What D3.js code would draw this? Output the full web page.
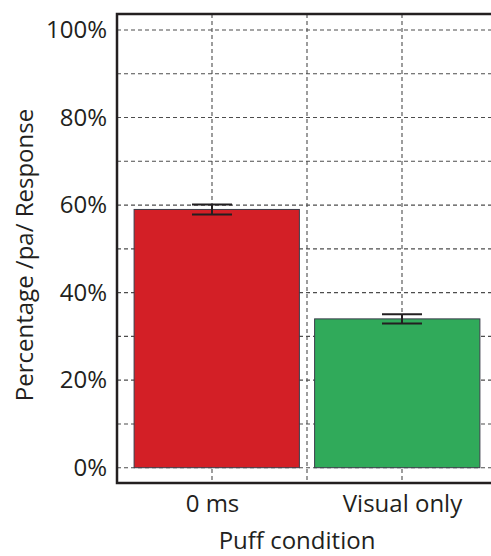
<!DOCTYPE html>
<html lang="en">
<head>
	<meta charset="utf-8">
	<script src="https://d3js.org/d3.v7.min.js"></script>
	<style>
		body { margin: 0; background: #fff; }
		text { font-family: "Open Sans", sans-serif; fill: #231f20; }
	</style>
</head>
<body>
	<script type="text/javascript">

		// data
		var categories = ["0 ms", "Visual only"];
		var values = [59.0, 34.0];
		var errors = [1.15, 1.05];
		var barColors = ["#d31f26", "#30aa5a"];
		var yTicks = [0, 20, 40, 60, 80, 100];
		var yGrid = [0, 10, 20, 30, 40, 50, 60, 70, 80, 90, 100];
		var xGrid = [0.5, 1, 1.5, 2, 2.5];

		var svgWidth = 491;
		var svgHeight = 556;

		// plot frame (right side is cut off by the picture edge)
		var plotLeft = 117, plotTop = 14, plotBottom = 483;

		var svg = d3.select("body")
			.append("svg")
			.attr("width", svgWidth)
			.attr("height", svgHeight);

		// x: categories sit at 1 and 2, grid every half step
		var x = d3.scaleLinear()
			.domain([0.5, 2.5])
			.range([plotLeft, 497]);

		var y = d3.scaleLinear()
			.domain([0, 100])
			.range([467.7, 30]);

		// bar edges relative to the category position
		var barEdges = [[-0.41, 0.46], [-0.46, 0.41]];

		//grid lines
		svg.append("g")
			.selectAll("line.hgrid")
			.data(yGrid)
			.enter()
			.append("line")
				.attr("class", "hgrid")
				.attr("x1", plotLeft)
				.attr("x2", svgWidth)
				.attr("y1", function(d) { return y(d); })
				.attr("y2", function(d) { return y(d); })
				.attr("stroke", "#4d4d4d")
				.attr("stroke-width", 1.1)
				.attr("stroke-dasharray", "4,3");

		svg.append("g")
			.selectAll("line.vgrid")
			.data(xGrid)
			.enter()
			.append("line")
				.attr("class", "vgrid")
				.attr("x1", function(d) { return x(d); })
				.attr("x2", function(d) { return x(d); })
				.attr("y1", plotTop)
				.attr("y2", plotBottom)
				.attr("stroke", "#4d4d4d")
				.attr("stroke-width", 1.1)
				.attr("stroke-dasharray", "4,3");

		//bars
		svg.selectAll("rect.bar")
			.data(values)
			.enter()
			.append("rect")
				.attr("class", "bar")
				.attr("x", function(d, i) { return x(i + 1 + barEdges[i][0]); })
				.attr("width", function(d, i) { return x(i + 1 + barEdges[i][1]) - x(i + 1 + barEdges[i][0]); })
				.attr("y", function(d) { return y(d); })
				.attr("height", function(d) { return y(0) - y(d); })
				.attr("fill", function(d, i) { return barColors[i]; })
				.attr("stroke", "#3b3d4a")
				.attr("stroke-width", 1);

		//error bars
		var capHalf = 20;
		var err = svg.selectAll("g.err")
			.data(values)
			.enter()
			.append("g")
				.attr("class", "err")
				.attr("stroke", "#231f20")
				.attr("stroke-width", 2);

		err.append("line")
			.attr("x1", function(d, i) { return x(i + 1); })
			.attr("x2", function(d, i) { return x(i + 1); })
			.attr("y1", function(d, i) { return y(d + errors[i]); })
			.attr("y2", function(d, i) { return y(d - errors[i]); });

		err.append("line")
			.attr("x1", function(d, i) { return x(i + 1) - capHalf; })
			.attr("x2", function(d, i) { return x(i + 1) + capHalf; })
			.attr("y1", function(d, i) { return y(d + errors[i]); })
			.attr("y2", function(d, i) { return y(d + errors[i]); });

		err.append("line")
			.attr("x1", function(d, i) { return x(i + 1) - capHalf; })
			.attr("x2", function(d, i) { return x(i + 1) + capHalf; })
			.attr("y1", function(d, i) { return y(d - errors[i]); })
			.attr("y2", function(d, i) { return y(d - errors[i]); });

		//frame
		svg.append("path")
			.attr("d", "M" + svgWidth + "," + plotTop + "H" + plotLeft + "V" + plotBottom + "H" + svgWidth)
			.attr("fill", "none")
			.attr("stroke", "#231f20")
			.attr("stroke-width", 2.5);

		//y axis labels
		var yAxis = d3.axisLeft(y)
			.tickValues(yTicks)
			.tickSize(0)
			.tickPadding(10)
			.tickFormat(function(d) { return d + "%"; });

		svg.append("g")
			.attr("transform", "translate(" + plotLeft + ",0)")
			.call(yAxis)
			.call(function(g) { g.select(".domain").remove(); })
			.selectAll("text")
				.style("font-family", "'Open Sans', sans-serif")
				.style("font-size", "24px")
				.attr("fill", "#231f20");

		//x axis labels
		var xAxis = d3.axisBottom(x)
			.tickValues([1, 2])
			.tickSize(0)
			.tickPadding(12)
			.tickFormat(function(d) { return categories[d - 1]; });

		svg.append("g")
			.attr("transform", "translate(0," + plotBottom + ")")
			.call(xAxis)
			.call(function(g) { g.select(".domain").remove(); })
			.selectAll("text")
				.style("font-family", "'Open Sans', sans-serif")
				.style("font-size", "24px")
				.attr("fill", "#231f20");

		//axis titles
		svg.append("text")
			.attr("x", 297)
			.attr("y", 549)
			.attr("text-anchor", "middle")
			.style("font-size", "24px")
			.text("Puff condition");

		svg.append("text")
			.attr("transform", "translate(33,255) rotate(-90)")
			.attr("text-anchor", "middle")
			.style("font-size", "24px")
			.text("Percentage /pa/ Response");

	</script>
</body>
</html>
